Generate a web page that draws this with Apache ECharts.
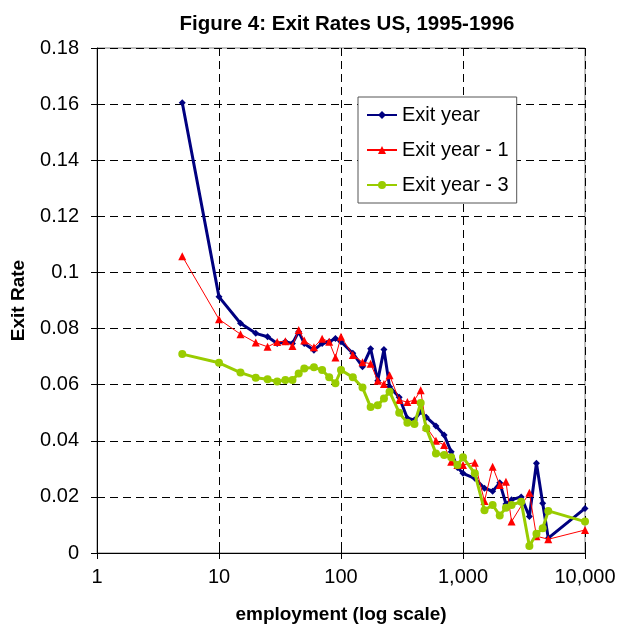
<!DOCTYPE html>
<html>
<head>
<meta charset="utf-8">
<script src="https://cdn.jsdelivr.net/npm/echarts@6/dist/echarts.min.js"></script>
<style>
html,body{margin:0;padding:0;background:#fff;}
#chart{width:619px;height:629px;}
</style>
</head>
<body>
<div id="chart"></div>
<script>
// ---- Data ----
const xExit = [5,10,15,20,25,30,35,40,45,50,60,70,80,90,100,125,150,175,200,225,250,300,350,400,450,500,600,700,800,900,1000,1250,1500,1750,2000,2250,2500,3000,3500,4000,4500,5000,10000];
const yExit = [0.1605,0.0913,0.0819,0.0783,0.0771,0.0747,0.0753,0.0747,0.0789,0.0747,0.0723,0.0747,0.0753,0.0765,0.0753,0.0712,0.0664,0.0728,0.0614,0.0725,0.0593,0.0555,0.0480,0.0474,0.0504,0.0484,0.0453,0.0421,0.0361,0.0305,0.0284,0.0266,0.0231,0.0220,0.0250,0.0175,0.0190,0.0200,0.0130,0.0320,0.0177,0.0053,0.0159];

const xExit1 = [5,10,15,20,25,30,35,40,45,50,60,70,80,90,100,125,150,175,200,225,250,300,350,400,450,500,600,700,800,900,1000,1250,1500,1750,2000,2250,2500,3500,4000,5000,10000];
const yExit1 = [0.1058,0.0833,0.0780,0.0750,0.0735,0.0752,0.0755,0.0738,0.0795,0.0757,0.0733,0.0764,0.0753,0.0697,0.0771,0.0706,0.0680,0.0675,0.0614,0.0602,0.0634,0.0545,0.0538,0.0545,0.0580,0.0450,0.0400,0.0385,0.0325,0.0314,0.0314,0.0322,0.0185,0.0307,0.0242,0.0254,0.0112,0.0215,0.0060,0.0049,0.0082];

const xExit3 = [5,10,15,20,25,30,35,40,45,50,60,70,80,90,100,125,150,175,200,225,250,300,350,400,450,500,600,700,800,900,1000,1250,1500,1750,2000,2250,2500,3000,3500,4000,4500,5000,10000];
const yExit3 = [0.0709,0.0678,0.0643,0.0625,0.0619,0.0611,0.0617,0.0617,0.0640,0.0658,0.0662,0.0652,0.0626,0.0605,0.0652,0.0626,0.0590,0.0520,0.0527,0.0551,0.0575,0.0500,0.0464,0.0460,0.0535,0.0445,0.0355,0.0349,0.0341,0.0314,0.0341,0.0284,0.0152,0.0171,0.0134,0.0161,0.0171,0.0183,0.0025,0.0069,0.0088,0.0150,0.0112];

const seriesNames = ['Exit year','Exit year - 1','Exit year - 3'];

function zip(xs, ys){ return xs.map((x,i)=>[x, ys[i]]); }
function commas(v){ return String(Math.round(v)).replace(/\B(?=(\d{3})+(?!\d))/g, ','); }

const FONT = 'Liberation Sans, Arial, sans-serif';
const chart = echarts.init(document.getElementById('chart'), null, {renderer:'canvas'});

const dashed = {show:true, lineStyle:{color:'#000', width:1, type:[8,5]}};

chart.setOption({
  animation:false,
  backgroundColor:'#fff',
  textStyle:{fontFamily:FONT},
  title:{
    text:'Figure 4: Exit Rates US, 1995-1996',
    left:342, top:9, textAlign:'center',
    textStyle:{fontFamily:FONT, fontSize:20.5, fontWeight:'bold', color:'#000'}
  },
  legend:{
    orient:'vertical',
    left:358, top:97,
    padding:[8,8,8,8],
    itemGap:15,
    itemWidth:30, itemHeight:10,
    backgroundColor:'#fff',
    borderColor:'#555', borderWidth:1,
    borderRadius:0,
    textStyle:{fontFamily:FONT, fontSize:20, color:'#000'},
    data:seriesNames
  },
  grid:{
    left:97, right:34, top:48, bottom:76,
    containLabel:false,
    outerBoundsMode:'none',
    show:true, borderColor:'#808080', borderWidth:1
  },
  xAxis:[{
    type:'log', logBase:10, min:1, max:10000,
    name:'employment (log scale)', nameLocation:'middle', nameGap:52,
    nameTextStyle:{fontFamily:FONT, fontSize:19, fontWeight:'bold', color:'#000'},
    axisLine:{show:true, lineStyle:{color:'#000', width:1}},
    axisTick:{show:true, length:6, lineStyle:{color:'#000'}},
    axisLabel:{fontFamily:FONT, fontSize:20, color:'#000', margin:14, formatter:v=>commas(v)},
    splitLine:dashed,
    minorTick:{show:false}
  },{
    type:'log', logBase:10, min:1, max:10000, position:'bottom',
    axisLine:{show:false},
    axisTick:{show:true, inside:true, length:6, lineStyle:{color:'#000'}},
    axisLabel:{show:false}, splitLine:{show:false}
  }],
  yAxis:[{
    type:'value', min:0, max:0.18, interval:0.02,
    name:'Exit Rate', nameLocation:'middle', nameGap:69, nameRotate:90,
    nameTextStyle:{fontFamily:FONT, fontSize:19, fontWeight:'bold', color:'#000'},
    axisLine:{show:true, lineStyle:{color:'#000', width:1}},
    axisTick:{show:true, length:6, lineStyle:{color:'#000'}},
    axisLabel:{fontFamily:FONT, fontSize:20, color:'#000', margin:18, formatter:v=>String(+v.toFixed(2))},
    splitLine:dashed
  },{
    type:'value', min:0, max:0.18, interval:0.02, position:'left',
    axisLine:{show:false},
    axisTick:{show:true, inside:true, length:6, lineStyle:{color:'#000'}},
    axisLabel:{show:false}, splitLine:{show:false}
  }],
  series:[
    {
      name:seriesNames[0], type:'line', data:zip(xExit,yExit),
      symbol:'diamond', symbolSize:7,
      lineStyle:{color:'#000080', width:3},
      itemStyle:{color:'#000080'},
      z:3
    },
    {
      name:seriesNames[1], type:'line', data:zip(xExit1,yExit1),
      symbol:'triangle', symbolSize:8,
      lineStyle:{color:'#FF0000', width:1},
      itemStyle:{color:'#FF0000'},
      z:4
    },
    {
      name:seriesNames[2], type:'line', data:zip(xExit3,yExit3),
      symbol:'circle', symbolSize:8,
      lineStyle:{color:'#99CC00', width:3},
      itemStyle:{color:'#99CC00'},
      z:5
    }
  ]
});
</script>
</body>
</html>
